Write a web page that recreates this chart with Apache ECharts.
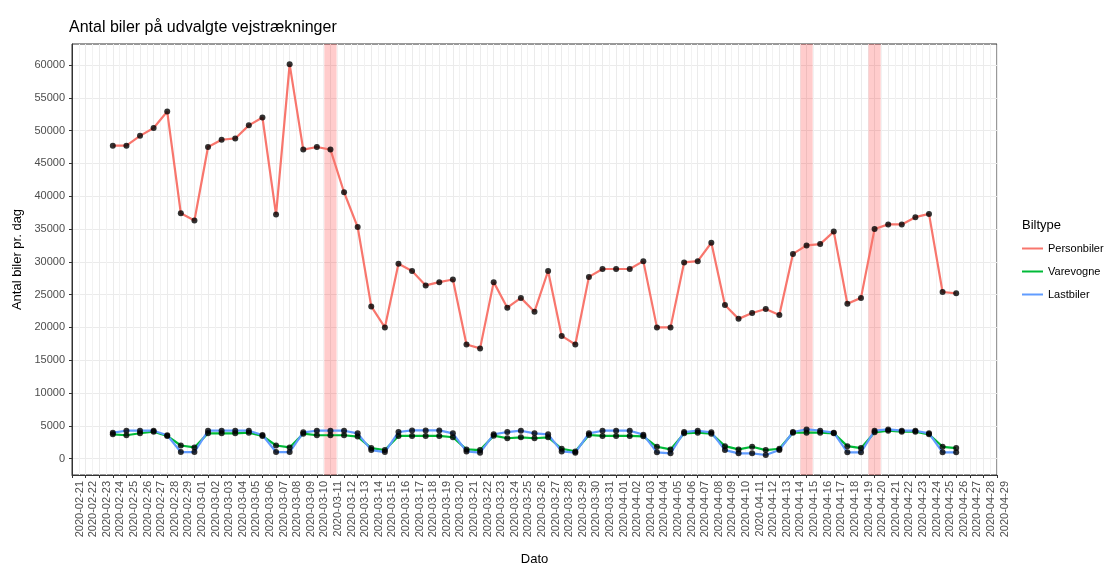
<!DOCTYPE html>
<html>
<head>
<meta charset="utf-8">
<script src="https://cdn.jsdelivr.net/npm/echarts@6.0.0/dist/echarts.min.js"></script>
<style>
  html, body { margin: 0; padding: 0; background: #fff; }
  #chart { width: 1119px; height: 565px; }
</style>
</head>
<body>
<div id="chart"></div>
<script>
// datoer (en måling pr. dag)
const dates = [
  '2020-02-24','2020-02-25','2020-02-26','2020-02-27','2020-02-28','2020-02-29','2020-03-01',
  '2020-03-02','2020-03-03','2020-03-04','2020-03-05','2020-03-06','2020-03-07','2020-03-08',
  '2020-03-09','2020-03-10','2020-03-11','2020-03-12','2020-03-13','2020-03-14','2020-03-15',
  '2020-03-16','2020-03-17','2020-03-18','2020-03-19','2020-03-20','2020-03-21','2020-03-22',
  '2020-03-23','2020-03-24','2020-03-25','2020-03-26','2020-03-27','2020-03-28','2020-03-29',
  '2020-03-30','2020-03-31','2020-04-01','2020-04-02','2020-04-03','2020-04-04','2020-04-05',
  '2020-04-06','2020-04-07','2020-04-08','2020-04-09','2020-04-10','2020-04-11','2020-04-12',
  '2020-04-13','2020-04-14','2020-04-15','2020-04-16','2020-04-17','2020-04-18','2020-04-19',
  '2020-04-20','2020-04-21','2020-04-22','2020-04-23','2020-04-24','2020-04-25','2020-04-26'
];

const personbiler = [
  47700, 47700, 49200, 50400, 52900, 37400, 36300,
  47500, 48600, 48800, 50800, 52000, 37200, 60100,
  47100, 47500, 47100, 40600, 35300, 23200, 20000,
  29700, 28600, 26400, 26900, 27300, 17400, 16800,
  26900, 23000, 24500, 22400, 28600, 18700, 17400,
  27700, 28900, 28900, 28900, 30100, 20000, 20000,
  29900, 30100, 32900, 23400, 21300, 22200, 22800,
  21900, 31200, 32500, 32700, 34600, 23600, 24500,
  35000, 35700, 35700, 36800, 37300, 25400, 25200
];

const varevogne = [
  3700, 3560, 3860, 4100, 3450, 2000, 1700,
  3860, 3860, 3860, 3950, 3450, 2000, 1700,
  3800, 3560, 3560, 3560, 3350, 1600, 1300,
  3450, 3450, 3450, 3450, 3250, 1400, 1300,
  3500, 3100, 3250, 3100, 3250, 1500, 1100,
  3600, 3450, 3450, 3450, 3400, 1800, 1400,
  3850, 3950, 3800, 1900, 1400, 1800, 1300,
  1500, 3950, 3950, 3950, 3850, 1900, 1600,
  4000, 4250, 4100, 4100, 3700, 1800, 1600
];

const lastbiler = [
  3950, 4250, 4250, 4250, 3550, 1000, 1000,
  4250, 4250, 4250, 4250, 3600, 1000, 1000,
  4000, 4250, 4250, 4250, 3850, 1300, 1000,
  4050, 4300, 4300, 4300, 3850, 1100, 900,
  3700, 4050, 4250, 3850, 3700, 1100, 900,
  3850, 4250, 4250, 4250, 3650, 950, 800,
  4050, 4250, 4000, 1300, 800, 800, 550,
  1300, 4050, 4450, 4250, 3950, 950, 950,
  4250, 4450, 4250, 4250, 3850, 950, 950
];

// markerede dage (røde bånd)
const markDates = ['2020-03-11', '2020-04-15', '2020-04-20'];

// aksens første og sidste dato
const axisStart = '2020-02-21';
const axisEnd = '2020-04-29';

const yTicks = [0, 5000, 10000, 15000, 20000, 25000, 30000, 35000, 40000, 45000, 50000, 55000, 60000];

const seriesNames = ['Personbiler', 'Varevogne', 'Lastbiler'];
const seriesColors = ['#F8766D', '#00BA38', '#619CFF'];
const seriesValues = [personbiler, varevogne, lastbiler];

// dage regnes fra axisStart, så x-aksen bliver en simpel talakse
const T0 = Date.parse(axisStart);
const dayOf = d => (Date.parse(d) - T0) / 864e5;
const dayLabel = v => new Date(T0 + v * 864e5).toISOString().slice(0, 10);

const FONT = "'Liberation Sans', Arial, sans-serif";

const chart = echarts.init(document.getElementById('chart'));

const lineSeries = seriesNames.map((name, i) => ({
  name: name,
  type: 'line',
  symbol: 'none',
  z: 2,
  lineStyle: { color: seriesColors[i], width: 2.2 },
  itemStyle: { color: seriesColors[i] },
  data: dates.map((d, k) => [dayOf(d), seriesValues[i][k]])
}));

// sorte punkter oven på linjerne
const pointSeries = seriesNames.map((name, i) => ({
  name: 'punkt ' + name,
  type: 'scatter',
  symbolSize: 6,
  z: 3,
  itemStyle: { color: '#000' },
  data: dates.map((d, k) => [dayOf(d), seriesValues[i][k]])
}));

const bandSeries = {
  name: 'bånd',
  type: 'line',
  data: [],
  z: 5,
  markArea: {
    silent: true,
    itemStyle: { color: 'rgba(255, 0, 0, 0.2)' },
    data: markDates.map(d => [{ xAxis: dayOf(d) - 0.45 }, { xAxis: dayOf(d) + 0.45 }])
  }
};

const option = {
  animation: false,
  textStyle: { fontFamily: FONT },
  title: [
    {
      text: 'Antal biler på udvalgte vejstrækninger',
      left: 64,
      top: 15,
      textStyle: { fontFamily: FONT, fontSize: 16, fontWeight: 'normal', color: '#000' }
    },
    {
      text: 'Biltype',
      left: 1017,
      top: 214,
      textStyle: { fontFamily: FONT, fontSize: 13, fontWeight: 'normal', color: '#000' }
    }
  ],
  legend: {
    orient: 'vertical',
    left: 1017,
    top: 238,
    icon: 'rect',
    itemWidth: 21,
    itemHeight: 2,
    itemGap: 12,
    data: seriesNames,
    textStyle: { fontFamily: FONT, fontSize: 11, color: '#000' }
  },
  grid: {
    left: 72,
    right: 122,
    top: 44,
    bottom: 90,
    containLabel: false,
    outerBoundsMode: 'none',
    show: true,
    borderColor: '#333',
    borderWidth: 1
  },
  xAxis: {
    type: 'value',
    min: 0,
    max: dayOf(axisEnd),
    interval: 1,
    name: 'Dato',
    nameLocation: 'middle',
    nameGap: 78,
    nameTextStyle: { fontFamily: FONT, fontSize: 13, color: '#000' },
    axisLine: { show: true, onZero: false, lineStyle: { color: '#333' } },
    axisTick: { show: true, length: 3, lineStyle: { color: '#333' } },
    axisLabel: {
      rotate: 90,
      margin: 6,
      verticalAlign: 'top',
      padding: [2, 0, 0, 0],
      fontFamily: FONT,
      fontSize: 11,
      color: '#4d4d4d',
      hideOverlap: false,
      formatter: v => dayLabel(v)
    },
    splitLine: { show: true, lineStyle: { color: '#ebebeb', width: 1 } },
    minorTick: { show: false, splitNumber: 2 },
    minorSplitLine: { show: true, lineStyle: { color: '#f2f2f2', width: 1 } }
  },
  yAxis: {
    type: 'value',
    min: -2500,
    max: 63200,
    interval: 2500,
    name: 'Antal biler pr. dag',
    nameLocation: 'middle',
    nameGap: 47,
    nameTextStyle: { fontFamily: FONT, fontSize: 13, color: '#000' },
    axisLine: { show: true, lineStyle: { color: '#333' } },
    axisTick: { show: true, length: 3, customValues: yTicks, lineStyle: { color: '#333' } },
    axisLabel: {
      margin: 7,
      fontFamily: FONT,
      fontSize: 11,
      color: '#4d4d4d',
      customValues: yTicks,
      formatter: v => (v >= 0 && v % 5000 === 0 ? String(v) : '')
    },
    splitLine: { show: true, lineStyle: { color: '#ebebeb', width: 1 } }
  },
  series: [...lineSeries, ...pointSeries, bandSeries]
};

chart.setOption(option);
</script>
</body>
</html>
